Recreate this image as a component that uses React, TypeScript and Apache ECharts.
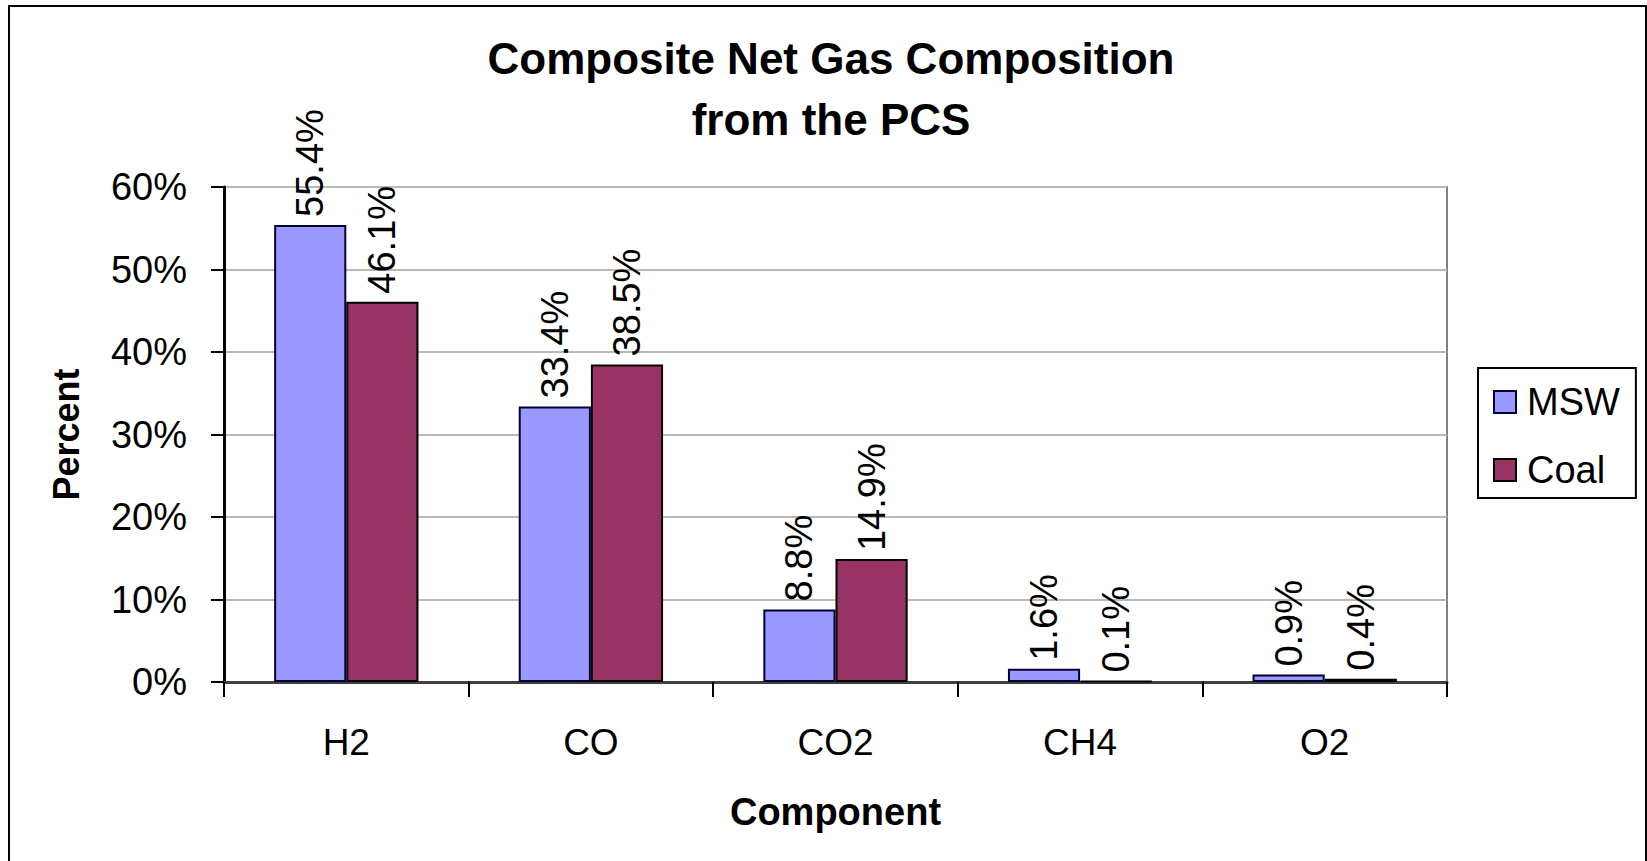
import React, { useEffect, useRef } from "react";
import * as echarts from "echarts";

const categories = ["H2", "CO", "CO2", "CH4", "O2"];
const mswValues = [55.4, 33.4, 8.8, 1.6, 0.9];
const coalValues = [46.1, 38.5, 14.9, 0.1, 0.4];
const seriesNames = ["MSW", "Coal"];

const FONT = "'Liberation Sans', Arial, sans-serif";

export default function App() {
  const ref = useRef<HTMLDivElement>(null);
  useEffect(() => {
    if (!ref.current) return;
    const chart = echarts.init(ref.current, undefined, { renderer: "svg" });
    const labelCfg = {
      show: true,
      position: "top",
      rotate: 90,
      align: "left",
      verticalAlign: "middle",
      distance: 8,
      fontSize: 38,
      fontFamily: FONT,
      color: "#000",
      formatter: (p: any) => Number(p.value).toFixed(1) + "%",
    };
    chart.setOption({
      animation: false,
      backgroundColor: "#fff",
      textStyle: { fontFamily: FONT },
      title: {
        text: "Composite Net Gas Composition\nfrom the PCS",
        left: 826,
        textAlign: "center",
        top: 23,
        textStyle: {
          fontSize: 44,
          fontWeight: "bold",
          fontFamily: FONT,
          color: "#000",
          lineHeight: 61,
        },
      },
      legend: {
        orient: "vertical",
        left: 1478,
        top: 368,
        data: seriesNames,
        icon: "rect",
        itemWidth: 22,
        itemHeight: 22,
        itemGap: 30,
        borderColor: "#000",
        borderWidth: 2,
        padding: [15, 16, 9, 15],
        textStyle: {
          fontSize: 38,
          fontFamily: FONT,
          color: "#000",
          padding: [0, 0, 0, 6],
        },
      },
      grid: {
        left: 224,
        right: 200,
        top: 187,
        bottom: 179,
        show: true,
        backgroundColor: "#fff",
        borderColor: "#808080",
        borderWidth: 2,
      },
      xAxis: {
        type: "category",
        data: categories,
        name: "Component",
        nameLocation: "middle",
        nameGap: 111,
        nameTextStyle: {
          fontSize: 38,
          fontWeight: "bold",
          fontFamily: FONT,
          color: "#000",
        },
        axisLine: { lineStyle: { color: "#404040", width: 3 } },
        axisTick: { show: true, length: 15, lineStyle: { color: "#000", width: 2 } },
        axisLabel: { fontSize: 37, color: "#000", margin: 42, fontFamily: FONT },
      },
      yAxis: {
        type: "value",
        min: 0,
        max: 60,
        interval: 10,
        name: "Percent",
        nameLocation: "middle",
        nameRotate: 90,
        nameGap: 140,
        nameTextStyle: {
          fontSize: 36,
          fontWeight: "bold",
          fontFamily: FONT,
          color: "#000",
        },
        axisLine: { show: true, lineStyle: { color: "#000", width: 3 } },
        axisTick: { show: true, length: 13, lineStyle: { color: "#000", width: 2 } },
        axisLabel: {
          fontSize: 38,
          color: "#000",
          margin: 37,
          fontFamily: FONT,
          formatter: "{value}%",
        },
        splitLine: { show: true, lineStyle: { color: "#b8b8b8", width: 2 } },
      },
      series: [
        {
          name: seriesNames[0],
          type: "bar",
          data: mswValues,
          barGap: "0%",
          barCategoryGap: "41%",
          itemStyle: { color: "#9999FF", borderColor: "#000033", borderWidth: 2 },
          label: labelCfg,
        },
        {
          name: seriesNames[1],
          type: "bar",
          data: coalValues,
          barGap: "0%",
          barCategoryGap: "41%",
          itemStyle: { color: "#993366", borderColor: "#000", borderWidth: 2 },
          label: labelCfg,
        },
      ],
      graphic: [
        {
          type: "rect",
          silent: true,
          shape: { x: 9, y: 6, width: 1637, height: 900 },
          style: { fill: "none", stroke: "#000", lineWidth: 2 },
          z: 100,
        },
      ],
    });
    return () => chart.dispose();
  }, []);
  return (
    <div
      ref={ref}
      style={{ position: "absolute", left: 0, top: 0, width: 1647, height: 861 }}
    />
  );
}
